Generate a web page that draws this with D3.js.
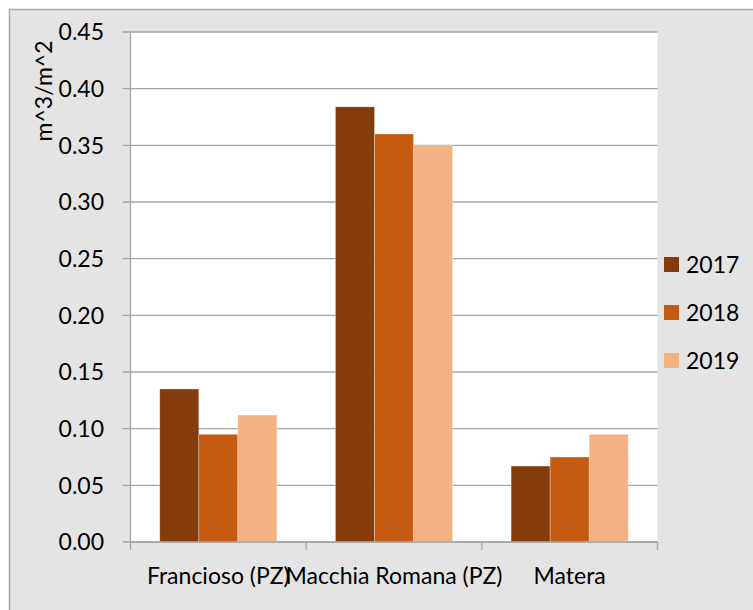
<!DOCTYPE html>
<html>
<head>
<meta charset="utf-8">
<script src="https://cdn.jsdelivr.net/npm/d3@7"></script>
<style>
  html, body { margin: 0; padding: 0; background: #ffffff; }
  svg { display: block; }
  text { font-family: Lato, "Open Sans", sans-serif; fill: #000; }
</style>
</head>
<body>
<svg id="chart" width="753" height="610"></svg>
<script>
// Sites, years and measured values (m^3/m^2)
const sites = ["Francioso (PZ)", "Macchia Romana (PZ)", "Matera"];
const years = ["2017", "2018", "2019"];
const values2017 = [0.135, 0.384, 0.067];
const values2018 = [0.095, 0.360, 0.075];
const values2019 = [0.112, 0.350, 0.095];
const yTicks = [0, 0.05, 0.10, 0.15, 0.20, 0.25, 0.30, 0.35, 0.40, 0.45];
const colors = ["#843C0C", "#C55A11", "#F4B183"];
const yTitle = "m^3/m^2";

const series = [values2017, values2018, values2019];
const fontSize = 23;
const capHalf = 8.2; // half the cap height at this size, for vertical centring

const svg = d3.select("#chart");

// chart panel
svg.append("rect")
  .attr("x", 9.5).attr("y", 9.5)
  .attr("width", 760).attr("height", 620)
  .attr("fill", "#e4e4e4")
  .attr("stroke", "#a6a6a6").attr("stroke-width", 1.5);

const plot = { left: 130.5, top: 32, right: 657.5, bottom: 542 };

// plot area
svg.append("rect")
  .attr("x", plot.left).attr("y", plot.top)
  .attr("width", plot.right - plot.left).attr("height", plot.bottom - plot.top)
  .attr("fill", "#ffffff");

const x = d3.scaleBand().domain(sites).range([plot.left, plot.right]);
const xInner = d3.scaleBand().domain(years).range([0, x.bandwidth()])
  .paddingInner(0).paddingOuter(0.75);
const y = d3.scaleLinear().domain([0, 0.45]).range([plot.bottom, plot.top]);

// gridlines
svg.append("g")
  .selectAll("line")
  .data(yTicks)
  .join("line")
  .attr("x1", plot.left - 8).attr("x2", plot.right)
  .attr("y1", d => y(d)).attr("y2", d => y(d))
  .attr("stroke", "#a6a6a6").attr("stroke-width", 1.3);

// y axis line
svg.append("line")
  .attr("x1", plot.left).attr("x2", plot.left)
  .attr("y1", plot.top).attr("y2", plot.bottom)
  .attr("stroke", "#a6a6a6").attr("stroke-width", 1.3);

// y tick labels
svg.append("g")
  .selectAll("text")
  .data(yTicks)
  .join("text")
  .attr("x", 104).attr("y", d => y(d) + capHalf)
  .attr("text-anchor", "end")
  .style("font-size", fontSize + "px")
  .text(d => d3.format(".2f")(d));

// bars
const groups = svg.append("g")
  .selectAll("g")
  .data(sites)
  .join("g")
  .attr("transform", d => `translate(${x(d)},0)`);

groups.selectAll("rect")
  .data((d, i) => years.map((yr, j) => ({ year: yr, value: series[j][i], j })))
  .join("rect")
  .attr("x", d => xInner(d.year))
  .attr("width", xInner.bandwidth())
  .attr("y", d => y(d.value))
  .attr("height", d => y(0) - y(d.value))
  .attr("fill", d => colors[d.j])
  .attr("stroke", "rgba(255,255,255,0.35)")
  .attr("stroke-width", 0.8);

// x axis line and ticks
svg.append("line")
  .attr("x1", plot.left).attr("x2", plot.right)
  .attr("y1", plot.bottom).attr("y2", plot.bottom)
  .attr("stroke", "#a6a6a6").attr("stroke-width", 1.3);

const xTickPos = sites.map(s => x(s)).concat([plot.right]);
svg.append("g")
  .selectAll("line")
  .data(xTickPos)
  .join("line")
  .attr("x1", d => d).attr("x2", d => d)
  .attr("y1", plot.bottom).attr("y2", plot.bottom + 8)
  .attr("stroke", "#a6a6a6").attr("stroke-width", 1.3);

// category labels
svg.append("g")
  .selectAll("text")
  .data(sites)
  .join("text")
  .attr("x", d => x(d) + x.bandwidth() / 2)
  .attr("y", 584)
  .attr("text-anchor", "middle")
  .style("font-size", fontSize + "px")
  .text(d => d);

// y axis title
svg.append("text")
  .attr("transform", "translate(52,91) rotate(-90)")
  .attr("text-anchor", "middle")
  .style("font-size", fontSize + "px")
  .text(yTitle);

// legend
const legend = svg.append("g")
  .selectAll("g")
  .data(years)
  .join("g")
  .attr("transform", (d, i) => `translate(664,${264.5 + i * 48})`);

legend.append("rect")
  .attr("x", 0).attr("y", -7.5)
  .attr("width", 15).attr("height", 15)
  .attr("fill", (d, i) => colors[i]);

legend.append("text")
  .attr("x", 22).attr("y", capHalf)
  .style("font-size", fontSize + "px")
  .text(d => d);
</script>
</body>
</html>
